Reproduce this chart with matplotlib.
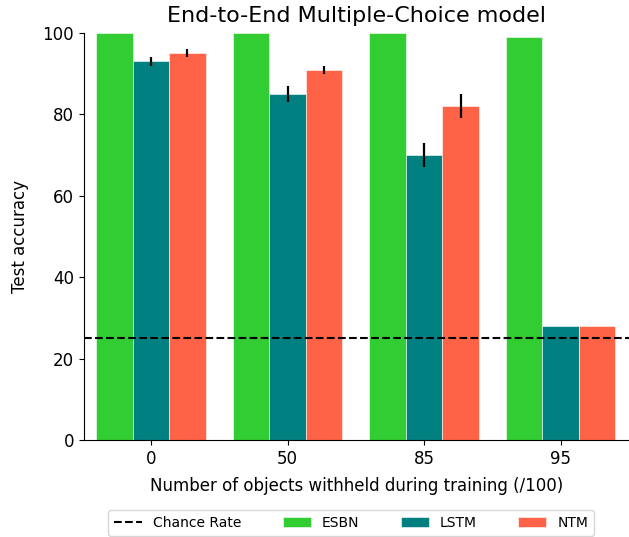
import numpy as np
import matplotlib
matplotlib.use('Agg')
import matplotlib.pyplot as plt

groups = ['0', '50', '85', '95']
esbn = [100, 100, 100, 99]
lstm = [93, 85, 70, 28]
ntm = [95, 91, 82, 28]
lstm_err = [1, 2, 3, 0]
ntm_err = [1, 1, 3, 0]
esbn_err = [0, 0, 0, 0]
chance = 25

fig = plt.figure(figsize=(6.29, 5.37), dpi=100)
ax = fig.add_axes([0.1335, 0.1806, 0.8665, 0.758])

x = np.arange(len(groups))
w = 0.8 / 3
ekw = dict(elinewidth=1.6)
ax.axhline(chance, color='black', linestyle='--', linewidth=1.5, label='Chance Rate')
ax.bar(x - w, esbn, w, yerr=esbn_err, error_kw=ekw, color='limegreen', edgecolor='white', linewidth=0.4, label='ESBN')
ax.bar(x, lstm, w, yerr=lstm_err, error_kw=ekw, color='teal', edgecolor='white', linewidth=0.4, label='LSTM')
ax.bar(x + w, ntm, w, yerr=ntm_err, error_kw=ekw, color='tomato', edgecolor='white', linewidth=0.4, label='NTM')

ax.set_xlim(-0.49, 3.5)
ax.set_ylim(0, 100)
ax.set_xticks(x)
ax.set_xticklabels(groups, fontsize=12)
ax.tick_params(axis='y', labelsize=12)
ax.spines['top'].set_visible(False)
ax.spines['right'].set_visible(False)
ax.set_xlabel('Number of objects withheld during training (/100)', fontsize=12, labelpad=7)
ax.set_ylabel('Test accuracy', fontsize=12, labelpad=10)
ax.set_title('End-to-End Multiple-Choice model', fontsize=16, pad=8)

fig.legend(loc='center', bbox_to_anchor=(0.558, 0.026), ncol=4, fontsize=10,
           handlelength=2, columnspacing=3)

fig.savefig('out.png', dpi=100)
